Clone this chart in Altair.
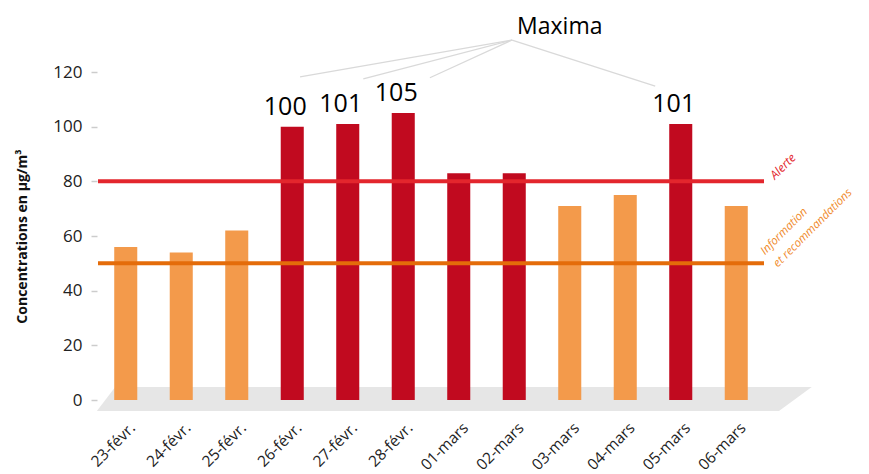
import altair as alt
import pandas as pd

# ---- data ----
dates = ["23-févr.", "24-févr.", "25-févr.", "26-févr.", "27-févr.", "28-févr.",
         "01-mars", "02-mars", "03-mars", "04-mars", "05-mars", "06-mars"]
values = [56, 54, 62, 100, 101, 105, 83, 83, 71, 75, 101, 71]
seuil_alerte = 80
seuil_info = 50

# annotation geometry (in band-index units u and concentration units)
floor_u = [-0.02, 0.31, 12.27, 12.86]
floor_top = [-4, 4.76, 4.76, 4.76]
floor_bot = [-4, -4, -4, 4.76]

maxima_u0 = 7.46
maxima_y0 = 131.7
maxima_u = [3.64, 4.78, 5.98, 10.04]
maxima_y = [118.2, 117.5, 117.9, 114.8]

FONT = "Open Sans"
ORANGE = "#F39A4B"
RED = "#C10A1F"
RED_LINE = "#E3262D"
ORANGE_LINE = "#E46C0A"

df = pd.DataFrame({"date": dates, "value": values})
floor_df = pd.DataFrame({"u": floor_u, "top": floor_top, "bot": floor_bot})
lines_df = pd.DataFrame({"u0": [maxima_u0] * 4, "y0": [maxima_y0] * 4,
                         "u1": maxima_u, "y1": maxima_y})

yscale = alt.Scale(domain=[0, 120], nice=False)
uscale = alt.Scale(domain=[0, 12], nice=False, zero=False)
xband = alt.Scale(paddingInner=0.585, paddingOuter=0.2925)

yaxis = alt.Axis(title="Concentrations en µg/m³", values=[0, 20, 40, 60, 80, 100, 120],
                 titleFontSize=14, titleFontWeight="bold", titleFont=FONT,
                 titleColor="#111", titlePadding=23,
                 labelFontSize=17, labelColor="#222", labelFont=FONT,
                 domain=False, grid=False, tickColor="#CCCCCC",
                 tickWidth=1.5, tickSize=6, offset=1, labelPadding=9)

floor = alt.Chart(floor_df).mark_area(color="#E6E6E6", interpolate="linear").encode(
    x=alt.X("u:Q", scale=uscale, axis=None),
    y=alt.Y("top:Q", scale=yscale, axis=yaxis),
    y2="bot:Q",
)

bars = alt.Chart(df).mark_bar().encode(
    x=alt.X("date:N", sort=dates, scale=xband,
            axis=alt.Axis(title=None, labelAngle=-45, labelFontSize=15.5,
                          labelColor="#222", labelFont=FONT, domain=False,
                          ticks=False, labelPadding=20, labelOffset=2,
                          labelAlign="right", labelBaseline="top", grid=False)),
    y=alt.Y("value:Q", scale=yscale, axis=yaxis),
    color=alt.condition(alt.datum.value > seuil_alerte, alt.value(RED), alt.value(ORANGE)),
)

rule_alerte = alt.Chart(pd.DataFrame({"y": [seuil_alerte]})).mark_rule(
    color=RED_LINE, strokeWidth=4).encode(y=alt.Y("y:Q", scale=yscale))
rule_info = alt.Chart(pd.DataFrame({"y": [seuil_info]})).mark_rule(
    color=ORANGE_LINE, strokeWidth=4).encode(y=alt.Y("y:Q", scale=yscale))

labels = alt.Chart(df).transform_filter(alt.datum.value >= 100).mark_text(
    font=FONT, fontSize=25, color="#000", baseline="alphabetic", dy=-12, dx=-7).encode(
    x=alt.X("date:N", sort=dates, scale=xband),
    y=alt.Y("value:Q", scale=yscale),
    text="value:Q",
)

band_layer = alt.layer(bars, rule_alerte, rule_info, labels)

maxima_lines = alt.Chart(lines_df).mark_rule(color="#D9D9D9", strokeWidth=1.3).encode(
    x=alt.X("u0:Q", scale=uscale, axis=None),
    y=alt.Y("y0:Q", scale=yscale),
    x2="u1:Q",
    y2="y1:Q",
)

maxima_text = alt.Chart(pd.DataFrame({"u": [8.32], "y": [136.6], "t": ["Maxima"]})).mark_text(
    font=FONT, fontSize=23, color="#000", baseline="middle", align="center").encode(
    x=alt.X("u:Q", scale=uscale, axis=None),
    y=alt.Y("y:Q", scale=yscale),
    text="t:N",
)

alerte_text = alt.Chart(pd.DataFrame({"u": [12.2], "y": [80.5], "t": ["Alerte"]})).mark_text(
    font=FONT, fontSize=12, fontStyle="italic", color=RED_LINE, angle=315,
    align="left", baseline="alphabetic").encode(
    x=alt.X("u:Q", scale=uscale, axis=None),
    y=alt.Y("y:Q", scale=yscale),
    text="t:N",
)

info_text = alt.Chart(pd.DataFrame({"u": [12.02], "y": [53.0],
                                    "t": [["Information", "et recommandations"]]})).mark_text(
    font=FONT, fontSize=11.5, fontStyle="italic", color="#F08A2B", angle=315,
    align="left", baseline="alphabetic", lineHeight=18).encode(
    x=alt.X("u:Q", scale=uscale, axis=None),
    y=alt.Y("y:Q", scale=yscale),
    text="t",
)

chart = alt.layer(
    floor, band_layer, maxima_lines, maxima_text, alerte_text, info_text,
).resolve_scale(x="independent").properties(
    width=666, height=328,
    autosize=alt.AutoSizeParams(type="none"),
    padding={"left": 90, "top": 64, "right": 96, "bottom": 74},
).configure(font=FONT).configure_view(stroke=None, strokeWidth=0).configure_axis(grid=False)

chart.save("out.html", embed_options={"renderer": "svg", "actions": False})
